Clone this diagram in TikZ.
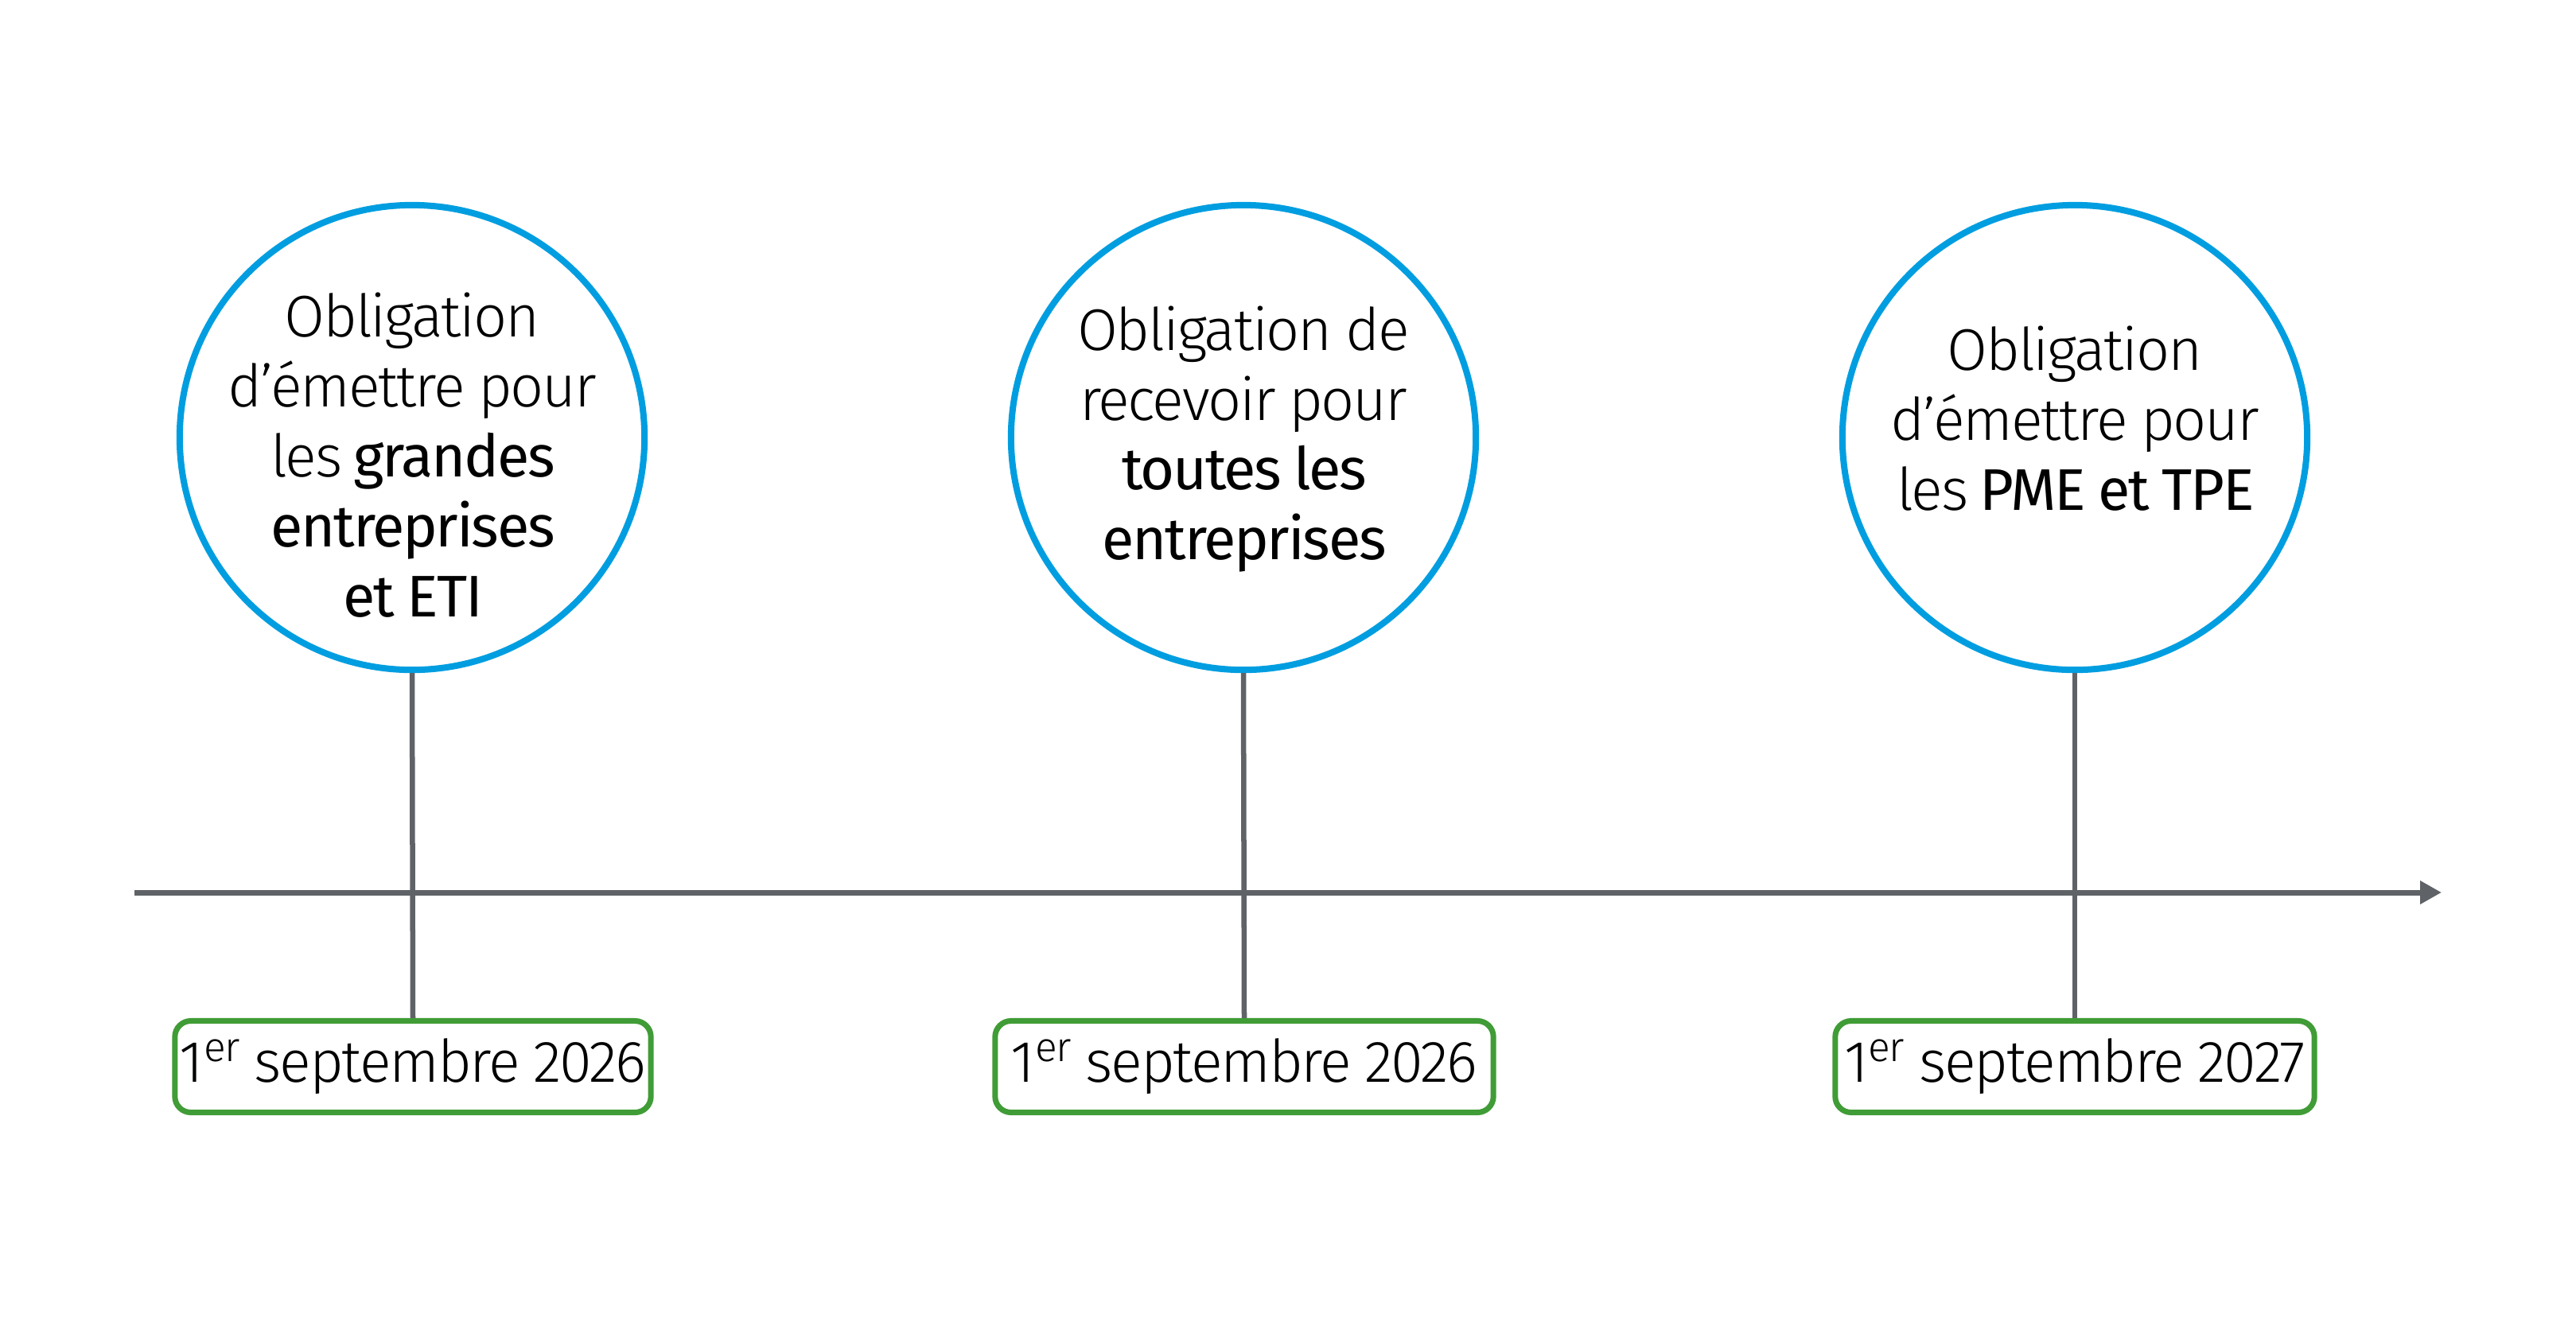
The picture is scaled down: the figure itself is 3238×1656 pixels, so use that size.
\documentclass[tikz,border=0pt]{standalone}
\usepackage{fontspec}
\setmainfont{Fira Sans}[UprightFont=* Light, BoldFont={Fira Sans}, LetterSpace=-3, WordSpace=0.9]
\usetikzlibrary{arrows.meta}
\definecolor{cblue}{RGB}{0,158,224}
\definecolor{cgreen}{RGB}{64,156,54}
\definecolor{cgray}{RGB}{95,99,104}
\tikzset{
  milestone/.style={circle, draw=cblue, line width=0.08cm, minimum size=5.84cm, inner sep=0pt, fill=white},
  circtext/.style={align=center, font=\fontsize{21}{25}\selectfont, text=black, inner sep=0pt},
  datebox/.style={draw=cgreen, line width=0.07cm, rounded corners=0.2cm, minimum height=1.15cm, inner sep=0pt, font=\fontsize{21}{25}\selectfont, text=black, fill=white},
  stem/.style={draw=cgray, line width=0.065cm},
  axis/.style={draw=cgray, line width=0.07cm, -{Triangle[length=0.27cm,width=0.28cm]}}
}
\begin{document}
\begin{tikzpicture}[x=0.01cm,y=-0.01cm]
\useasboundingbox[fill=white] (0,0) rectangle (3238,1656);
% axis
\coordinate (axs) at (169,1122);
\coordinate (axe) at (3069,1122);
% circles
\node[milestone] (c1) at (518,550) {};
\node[milestone] (c2) at (1563,550) {};
\node[milestone] (c3) at (2608,550) {};
% date boxes
\node[datebox, minimum width=5.98cm] (d1) at (519,1341) {1\textsuperscript{er} septembre 2026};
\node[datebox, minimum width=6.26cm] (d2) at (1564,1341) {1\textsuperscript{er} septembre 2026};
\node[datebox, minimum width=6.02cm] (d3) at (2608,1341) {1\textsuperscript{er} septembre 2027};
% stems
\draw[stem] (c1.south) -- (d1.north);
\draw[stem] (c2.south) -- (d2.north);
\draw[stem] (c3.south) -- (d3.north);
\draw[axis] (axs) -- (axe);
% texts
\node[circtext] (t1) at (518,572) {Obligation\\d'émettre pour\\les \textbf{grandes}\\\textbf{entreprises}\\\textbf{et ETI}};
\node[circtext] (t2) at (1563,552) {Obligation de\\recevoir pour\\\textbf{toutes les}\\\textbf{entreprises}};
\node[circtext] (t3) at (2608,526) {Obligation\\d'émettre pour\\les \textbf{PME et TPE}};
\end{tikzpicture}
\end{document}
